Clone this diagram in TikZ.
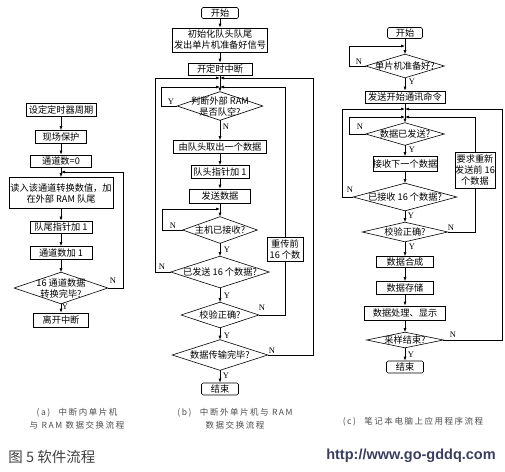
\documentclass[tikz,border=0pt]{standalone}
\usepackage{fontspec}
\setmainfont{Liberation Serif}
\newfontfamily\cjk{Noto Sans CJK SC}
\newfontfamily\capfont[LetterSpace=18]{Noto Sans CJK SC}
\newfontfamily\urlfont{Liberation Sans}
\usetikzlibrary{arrows.meta}

\definecolor{urlblue}{RGB}{58,62,92}

\tikzset{
  box/.style={draw, inner sep=0pt, align=center, font=\cjk\fontsize{9.2}{11}\selectfont},
  startstop/.style={box, rounded corners=1.5pt},
  decide/.style={inner sep=0pt, align=center, font=\cjk\fontsize{9.2}{11}\selectfont},
  yn/.style={font=\fontsize{8.5}{9}\selectfont, inner sep=0.5pt},
  flow/.style={-{Latex[length=4pt,width=3pt]}},
  caption/.style={font=\capfont\fontsize{8.5}{12.5}\selectfont, text=black!70, align=center},
}

\begin{document}
\begin{tikzpicture}[x=1pt, y=-1pt, line width=0.6pt]
\useasboundingbox (0,0) rectangle (505,471);

%% ── (a) inside the interrupt ─────────────────────────────────────
\node[box, minimum width=70, minimum height=13] (a1) at (61,110) {设定定时器周期};
\node[box, minimum width=51, minimum height=13] (a2) at (61,137) {现场保护};
\node[box, minimum width=61, minimum height=12] (a3) at (61,161) {通道数=0};
\node[box, minimum width=104, minimum height=31] (a4) at (61,193)
  {读入该通道转换数值，加\\在外部 RAM 队尾};
\node[box, minimum width=62, minimum height=12] (a5) at (61,227) {队尾指针加 1};
\node[box, minimum width=62, minimum height=13] (a6) at (61,253) {通道数加 1};
\node[decide, minimum width=93, minimum height=31] (a7) at (61,288)
  {16 通道数据\\转换完毕?};
\node[box, minimum width=55, minimum height=14] (a8) at (61,320) {离开中断};

\coordinate (aj) at (61,172);
\foreach \u/\v in {a1/a2,a2/a3,a3/a4,a4/a5,a5/a6,a6/a7,a7/a8}
  \draw[flow] (\u) -- (\v);
\draw[flow] (a7.east) -- ++(15,0) |- (aj);

\node[yn] (aN) at (113,281) {N};
\node[yn] (aY) at (65,307) {Y};

%% ── (b) outside the interrupt ────────────────────────────────────
\node[startstop, minimum width=37, minimum height=11] (b1) at (220,13) {开始};
\node[box, minimum width=95, minimum height=24] (b2) at (220,40)
  {初始化队头队尾\\发出单片机准备好信号};
\node[box, minimum width=64, minimum height=12] (b3) at (220,69) {开定时中断};
\node[decide, minimum width=85, minimum height=28] (b4) at (220,106)
  {判断外部 RAM\\是否队空?};
\node[box, minimum width=93, minimum height=13] (b5) at (220,147) {由队头取出一个数据};
\node[box, minimum width=58, minimum height=13] (b6) at (220,172) {队头指针加 1};
\node[box, minimum width=61, minimum height=14] (b7) at (220,196) {发送数据};
\node[decide, minimum width=74, minimum height=26] (b8) at (220,230) {主机已接收?};
\node[decide, minimum width=98, minimum height=31] (b9) at (220,272) {已发送 16 个数据?};
\node[decide, minimum width=77, minimum height=25] (b10) at (220,315) {校验正确?};
\node[decide, minimum width=95, minimum height=30] (b11) at (220,355) {数据传输完毕?};
\node[startstop, minimum width=37, minimum height=12] (b12) at (220,389) {结束};
\node[box, minimum width=36, minimum height=24] (b13) at (285,249) {重传前\\16 个数};

\coordinate (bjo) at (220,78);
\coordinate (bji) at (220,87);
\coordinate (bjs) at (220,209);
\foreach \u/\v in {b1/b2,b2/b3,b3/b4,b4/b5,b5/b6,b6/b7,b7/b8,b8/b9,b9/b10,b10/b11,b11/b12}
  \draw[flow] (\u) -- (\v);
\draw[flow] (b4.west) -- ++(-15.5,0) |- (bji);
\draw[flow] (b13.north) |- (bji);
\draw (b10.east) -| (b13.south);
\draw[flow] (b9.west) -- ++(-15,0) |- (bjo);
\draw[flow] (b11.east) -- ++(45.5,0) |- (bjo);
\draw[flow] (b8.west) -- ++(-20,0) |- (bjs);

\node[yn] (b4Y) at (171,102) {Y};
\node[yn] (b4N) at (226,127) {N};
\node[yn] (b8N) at (173,226) {N};
\node[yn] (b8Y) at (227,250) {Y};
\node[yn] (b9N) at (162,267) {N};
\node[yn] (b9Y) at (227,296) {Y};
\node[yn] (b10N) at (262,308) {N};
\node[yn] (b10Y) at (227,336) {Y};
\node[yn] (b11N) at (272,351) {N};
\node[yn] (b11Y) at (226,376) {Y};

%% ── (c) notebook program ─────────────────────────────────────────
\node[startstop, minimum width=35, minimum height=11] (c1) at (405,33) {开始};
\node[decide, minimum width=78, minimum height=23] (c2) at (405,66) {单片机准备好?};
\node[box, minimum width=80, minimum height=12] (c3) at (405,97) {发送开始通讯命令};
\node[decide, minimum width=78, minimum height=22] (c4) at (405,134) {数据已发送?};
\node[box, minimum width=64, minimum height=15] (c5) at (405,164) {接收下一个数据};
\node[decide, minimum width=103, minimum height=27] (c6) at (405,197) {已接收 16 个数据?};
\node[decide, minimum width=85, minimum height=19] (c7) at (405,232) {校验正确?};
\node[box, minimum width=57, minimum height=11] (c8) at (405,262) {数据合成};
\node[box, minimum width=57, minimum height=13] (c9) at (405,288) {数据存储};
\node[box, minimum width=81, minimum height=14] (c10) at (405,313) {数据处理、显示};
\node[decide, minimum width=76, minimum height=15] (c11) at (405,340) {采样结束?};
\node[startstop, minimum width=37, minimum height=12] (c12) at (405,367) {结束};
\node[box, minimum width=40, minimum height=36] (c13) at (475,170)
  {要求重新\\发送前 16\\个数据};

\coordinate (cjs) at (405,46);
\coordinate (cjo) at (405,109);
\coordinate (cji) at (405,117);
\foreach \u/\v in {c1/c2,c2/c3,c3/c4,c4/c5,c5/c6,c6/c7,c7/c8,c8/c9,c9/c10,c10/c11,c11/c12}
  \draw[flow] (\u) -- (\v);
\draw[flow] (c2.west) -- ++(-16,0) |- (cjs);
\draw[flow] (c4.west) -- ++(-16,0) |- (cji);
\draw[flow] (c6.west) -- ++(-10.5,0) |- (cjo);
\draw[flow] (c13.north) |- (cji);
\draw (c7.east) -| (c13.south);
\draw[flow] (c11.east) -- ++(59,0) |- (cjo);

\node[yn] (c2N) at (359,62) {N};
\node[yn] (c2Y) at (412,82) {Y};
\node[yn] (c4N) at (360,127) {N};
\node[yn] (c4Y) at (412,150) {Y};
\node[yn] (c6N) at (350,190) {N};
\node[yn] (c6Y) at (411,216) {Y};
\node[yn] (c7N) at (451,228) {N};
\node[yn] (c7Y) at (412,247) {Y};
\node[yn] (c11N) at (453,335) {N};
\node[yn] (c11Y) at (411,355) {Y};

%% diamonds
\foreach \d in {a7,b4,b8,b9,b10,b11,c2,c4,c6,c7,c11}
  \draw (\d.west) -- (\d.north) -- (\d.east) -- (\d.south) -- cycle;

%% ── captions ─────────────────────────────────────────────────────
\node[caption] (capa) at (77,419) {(a)\quad 中断内单片机\\与 RAM 数据交换流程};
\node[caption] (capb) at (235,419) {(b)\quad 中断外单片机与 RAM\\数据交换流程};
\node[caption] (capc) at (413,422) {(c)\quad 笔记本电脑上应用程序流程};
\node[anchor=west, inner sep=0pt, text=black!75, font=\cjk\fontsize{14.5}{16}\selectfont]
  (fig) at (8,457) {图 5\ 软件流程};
\node[anchor=east, inner sep=0pt, text=urlblue, font=\urlfont\bfseries\fontsize{14.5}{16}\selectfont]
  (url) at (496,456) {http://www.go-gddq.com};

\end{tikzpicture}
\end{document}
